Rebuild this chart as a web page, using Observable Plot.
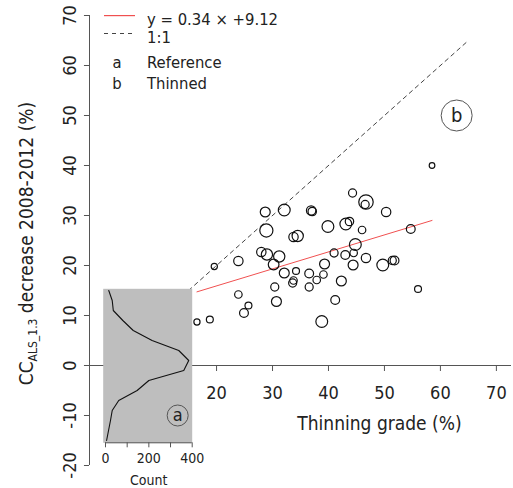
<!DOCTYPE html>
<html><head><meta charset="utf-8">
<script src="https://cdn.jsdelivr.net/npm/d3@7"></script>
<script src="https://cdn.jsdelivr.net/npm/@observablehq/plot@0.6"></script>
<style>
body{margin:0;background:#fff;}
#wrap{position:relative;width:513px;height:488px;font-family:"DejaVu Sans Condensed","DejaVu Sans",sans-serif;font-stretch:condensed;}
#wrap svg{position:absolute;overflow:visible;font-family:"DejaVu Sans Condensed","DejaVu Sans",sans-serif;font-stretch:condensed;}
</style></head><body><div id="wrap"></div>
<script>
// ---- data ----
const thinningGrade = [28.7,32.1,36.9,37.1,28.9,33.75,34.5,58.5,44.3,46.7,46.55,50.3,39.9,43.1,43.75,46.0,54.7,44.8,19.6,23.9,28.0,29.0,31.2,30.2,32.1,34.2,36.55,37.9,30.4,33.75,33.6,36.55,23.9,25.7,24.9,30.7,16.5,18.8,38.8,41.0,43.0,44.5,46.7,39.3,44.4,49.7,51.4,51.8,39.1,42.3,56.0,41.2];
const ccDecrease = [30.7,31.1,31.0,30.8,27.0,25.7,25.9,40.0,34.5,32.7,32.2,30.7,27.8,28.3,28.8,27.1,27.3,24.2,19.8,20.9,22.7,22.2,21.8,20.2,18.5,18.9,18.4,17.1,15.7,17.0,16.5,15.7,14.2,12.0,10.5,12.8,8.7,9.2,8.8,22.5,22.1,22.5,21.5,20.3,20.1,20.1,21.0,21.0,18.2,16.9,15.3,13.1];
const standSize = [5.3,6.3,5,4.5,7,5,6,3,4.3,7.7,4.3,5,6.3,6.3,4.5,4,4.7,6.3,3.3,5,5,6,6,5.7,5.3,3.7,4.7,4,4.3,4,4.3,4.3,4,3.7,4.7,5.3,3.3,3.7,6.3,4.3,4.7,4,5,5.3,5.3,6.3,4.3,4.7,4,5.3,3.7,4.7];
// reference-plot distribution (inset)
const refDecrease = [15,13,11,9,7,5,3,1,-1,-3,-5,-7,-9,-11,-13,-15];
const refCount = [15,31,36,80,128,215,338,384,361,200,146,61,31,23,14,5];
// regression & 1:1
const slope = 0.34, intercept = 9.12;
const oneToOne = [15, 65];
const xTicks = [20,30,40,50,60,70];
const yTicks = [-20,-10,0,10,20,30,40,50,60,70];
const countTicks = [0,100,200,300,400];
const countLabels = [0,200,400];
const legendItems = ["y = 0.34 × +9.12", "1:1", "Reference", "Thinned"];

const pts = thinningGrade.map((x,i)=>({x, y: ccDecrease[i], s: standSize[i]}));
const xExt = d3.extent(thinningGrade);
const regLine = xExt.map(x=>({x, y: slope*x+intercept}));
const diag = oneToOne.map(v=>({x:v, y:v}));

const xDom = [-2.7, 72.7], yDom = [-20, 70];
const axisCol = "#555", txtCol = "#222", regCol = "#f05050";
const wrap = document.getElementById("wrap");

const main = Plot.plot({
  width: 513, height: 488,
  marginLeft: 89, marginRight: 2, marginTop: 15, marginBottom: 23,
  x: {domain: xDom, axis: null},
  y: {domain: yDom, axis: null},
  r: {type: "linear", domain: [0, 8], range: [0, 7.5]},
  style: {fontFamily: "DejaVu Sans Condensed, DejaVu Sans, sans-serif", color: txtCol},
  marks: [
    // y axis
    Plot.ruleX([xDom[0]], {y1: yDom[0], y2: yDom[1], stroke: axisCol}),
    Plot.ruleY(yTicks, {x1: xDom[0], x2: xDom[0] - 0.9, stroke: axisCol}),
    Plot.text(yTicks, {x: xDom[0], y: d=>d, dx: -19, rotate: -90, text: d=>String(d), fontSize: 18, fill: txtCol, textAnchor: "middle", lineAnchor: "middle"}),
    // x axis at y = 0
    Plot.ruleY([0], {x1: xDom[0], x2: xDom[1], stroke: axisCol}),
    Plot.ruleX(xTicks, {y1: 0, y2: -1.2, stroke: axisCol}),
    Plot.text(xTicks, {x: d=>d, y: 0, dy: 28, text: d=>String(d), fontSize: 18, fill: txtCol, lineAnchor: "middle"}),
    Plot.text(["Thinning grade (%)"], {frameAnchor: "bottom", dx: 79, dy: -42, fontSize: 19, fill: txtCol, lineAnchor: "middle"}),
    // 1:1 and regression
    Plot.line(diag, {x: "x", y: "y", stroke: "#444", strokeDasharray: "4,4", strokeWidth: 1}),
    Plot.line(regLine, {x: "x", y: "y", stroke: regCol, strokeWidth: 1}),
    // points
    Plot.dot(pts, {x: "x", y: "y", r: "s", stroke: "#111", fill: "none", strokeWidth: 1.2}),
    // 'b' annotation
    Plot.dot([{x: 62.9, y: 50}], {x: "x", y: "y", r: 15.5, stroke: "#555", fill: "none", strokeWidth: 1}),
    Plot.text([{x: 62.9, y: 50, t: "b"}], {x: "x", y: "y", text: "t", fontSize: 20, fill: txtCol})
  ]
});
main.style.left = "0px"; main.style.top = "0px";
wrap.appendChild(main);

const svg = d3.select(main);
// y-axis title with subscript
const yl = svg.append("text")
  .attr("transform", "translate(33,243.5) rotate(-90)")
  .attr("text-anchor", "middle").attr("font-size", 19).attr("fill", txtCol);
yl.append("tspan").text("CC");
yl.append("tspan").attr("font-size", 12).attr("dy", 4).text("ALS_1.3");
yl.append("tspan").attr("dy", -4).text(" decrease 2008-2012 (%)");

// legend (separate overlay svg)
const lsvg = d3.create("svg").attr("width", 200).attr("height", 100)
  .style("left", "100px").style("top", "0px");
lsvg.append("rect").attr("x", 4).attr("y", 15).attr("width", 31).attr("height", 1.2).attr("fill", regCol);
lsvg.append("line").attr("x1", 4).attr("x2", 35).attr("y1", 33.5).attr("y2", 33.5)
  .attr("stroke", "#444").attr("stroke-width", 1).attr("stroke-dasharray", "4,4");
const rowsY = [25, 42.5, 68, 88.5];
const lt = lsvg.append("g").attr("font-size", 16.5).attr("fill", txtCol);
legendItems.forEach((t,i)=>{
  lt.append("text").attr("x", 47).attr("y", rowsY[i]).attr("text-anchor", "start").text(t);
});
lt.append("text").attr("x", 17).attr("y", rowsY[2]).attr("text-anchor", "middle").text("a");
lt.append("text").attr("x", 17).attr("y", rowsY[3]).attr("text-anchor", "middle").text("b");
wrap.appendChild(lsvg.node());

// ---- inset ----
const refData = refDecrease.map((y,i)=>({y, c: refCount[i]}));
const inset = Plot.plot({
  width: 110, height: 208,
  marginLeft: 7.7, marginRight: 13.3, marginTop: 8.3, marginBottom: 45.7,
  x: {domain: [-10.6, 400], axis: null},
  y: {domain: [-15.46, 15.34], axis: null},
  style: {fontFamily: "DejaVu Sans Condensed, DejaVu Sans, sans-serif", color: txtCol, background: "transparent"},
  marks: [
    Plot.frame({fill: "#bebebe", stroke: null}),
    Plot.line(refData, {x: "c", y: "y", stroke: "#111", strokeWidth: 1.1, sort: null}),
    Plot.axisX({ticks: countTicks, tickSize: 5, tickPadding: 5, tickFormat: d => countLabels.includes(d) ? String(d) : "", fontSize: 14, stroke: axisCol, fill: txtCol, label: null}),
    Plot.ruleY([-15.46], {x1: 0, x2: 400, stroke: axisCol}),
    Plot.text(["Count"], {frameAnchor: "bottom", dx: 1, dy: 38, fontSize: 14, fill: txtCol, lineAnchor: "middle"}),
    Plot.dot([{c: 333, y: -10}], {x: "c", y: "y", r: 10.5, stroke: "#555", fill: "none", strokeWidth: 1}),
    Plot.text([{c: 333, y: -10, t: "a"}], {x: "c", y: "y", text: "t", fontSize: 18, fill: txtCol})
  ]
});
inset.style.left = "95px"; inset.style.top = "280px";
wrap.appendChild(inset);
</script>
</body></html>
